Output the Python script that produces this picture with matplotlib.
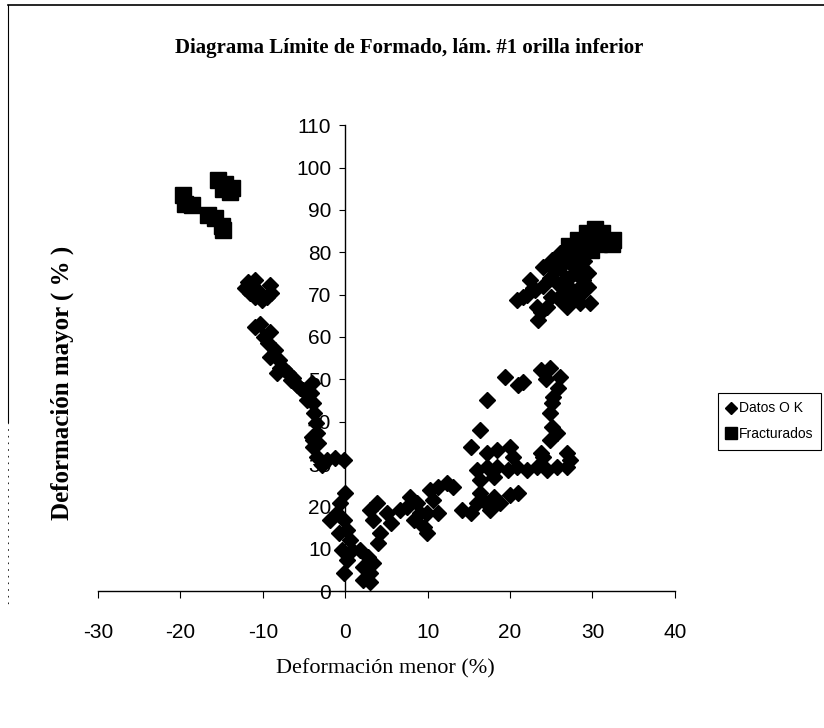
import matplotlib.pyplot as plt
from matplotlib.lines import Line2D

plt.rcParams['font.family'] = ['Liberation Sans', 'DejaVu Sans']
plt.rcParams['axes.unicode_minus'] = False

# Datos O K (minor strain, major strain) in %
ok_x = [-11.8, -10.7, -9.1, -9.5, -10.1, -11.5, -12.2, -11.0, -10.5, -9.0, -11.0,
        -10.9, -9.1, -9.9, -10.3, -9.4, -8.5, -9.1, -8.0,
        -7.9, -6.9, -6.3, -8.3, -7.4, -6.6,
        -5.8, -5.1, -4.2, -4.0, -4.6, -3.9, -3.8, -5.5,
        -3.6, -3.4, -3.9, -3.3, -4.0, -3.9, -3.4, -2.2, -1.2, -0.2, -2.8,
        0.0, -0.6, -1.0, -1.8, -0.2, 0.2, -0.8, 0.6, -0.4, 0.2, -0.2, 0.8,
        1.8, 2.8, 2.2, 3.0, 2.1, 3.0, 3.4,
        3.0, 3.9, 3.4, 4.2, 4.0, 5.1, 5.5, 6.7, 7.9, 7.5, 8.7, 9.1, 9.5, 9.9,
        10.3, 11.2, 10.7, 12.4, 13.1, 11.2, 9.9, 8.3,
        14.2, 15.2, 16.0, 16.7, 18.0, 18.8, 20.0, 21.0, 17.6, 16.4,
        16.0, 17.2, 18.4, 19.7, 20.9, 22.1, 23.3, 24.5, 25.7, 26.9, 27.3, 24.0,
        17.2, 18.4, 20.0, 20.4, 18.0, 16.4, 15.2, 16.4, 17.2,
        19.4, 21.0, 21.6, 23.7, 24.9, 26.1, 25.2, 25.1, 24.9, 25.1, 25.7, 24.9,
        26.9, 23.7, 25.8, 24.4,
        20.9, 21.6, 22.4, 23.3, 23.4, 24.5, 24.0, 25.1, 26.1, 27.3, 28.1, 28.5,
        29.7, 29.4, 27.7, 28.5, 29.4, 26.1, 25.7, 26.4, 26.9, 23.0,
        22.0, 22.8, 24.0, 24.8, 25.5, 26.5, 27.5, 28.0, 28.8, 27.0, 26.0, 25.0,
        27.5, 28.5, 29.0, 27.0, 23.8, 26.8, 28.6]
ok_y = [72.9, 71.1, 72.2, 69.4, 68.7, 70.5, 71.5, 73.5, 70.0, 70.5, 69.5,
        62.3, 61.1, 60.0, 63.0, 58.5, 56.9, 55.2, 54.5,
        52.6, 51.5, 50.3, 51.5, 52.5, 49.8,
        48.6, 47.4, 46.7, 49.1, 45.1, 44.4, 42.0, 48.0,
        39.7, 37.3, 35.6, 34.9, 36.4, 34.0, 31.6, 30.9, 31.4, 30.9, 29.7,
        23.1, 20.8, 18.4, 16.8, 16.8, 14.4, 13.7, 12.0, 9.7, 7.3, 4.2, 9.7,
        9.7, 8.0, 5.7, 4.2, 2.6, 2.1, 6.6,
        19.1, 20.8, 16.8, 13.7, 11.3, 18.4, 16.1, 19.1, 22.2, 19.8, 20.8, 18.4,
        15.1, 13.7,
        23.8, 24.6, 21.5, 25.5, 24.6, 18.4, 18.4, 16.8,
        19.1, 18.4, 20.8, 21.5, 22.2, 20.8, 22.7, 23.1, 19.1, 23.1,
        28.6, 29.3, 29.3, 28.6, 29.3, 28.6, 29.3, 28.6, 29.3, 29.3, 30.9, 31.6,
        32.6, 33.3, 34.0, 31.6, 26.9, 26.2, 34.0, 38.0, 45.1,
        50.5, 48.6, 49.3, 52.2, 52.6, 50.5, 45.8, 44.4, 42.0, 38.7, 37.3, 35.6,
        32.6, 32.6, 48.0, 50.0,
        68.7, 69.4, 73.4, 67.0, 64.0, 67.0, 76.5, 78.1, 79.8, 74.1, 71.1, 68.0,
        68.0, 71.8, 76.5, 78.1, 75.1, 76.5, 72.7, 70.3, 67.0, 71.0,
        70.0, 71.5, 72.0, 74.0, 75.5, 77.5, 78.5, 75.0, 73.5, 72.0, 69.0, 69.5,
        69.0, 70.0, 78.0, 80.0, 66.0, 74.0, 76.5]

# Fracturados
fr_x = [-19.7, -18.6, -16.7, -15.8, -15.0, -14.8, -15.4, -14.6, -13.7, -14.8,
        -14.0, -19.5,
        27.2, 28.2, 29.3, 30.3, 31.2, 32.5, 32.4, 30.8, 29.8, 28.5]
fr_y = [93.5, 91.1, 88.8, 88.0, 86.2, 85.2, 97.0, 96.2, 95.1, 95.0,
        94.2, 91.5,
        81.5, 83.0, 84.5, 85.5, 84.5, 83.0, 82.0, 82.0, 80.5, 80.0]

x_ticks = [-30, -20, -10, 0, 10, 20, 30, 40]
y_ticks = list(range(0, 111, 10))

fig = plt.figure(figsize=(8.24, 7.28), dpi=100)
ax = fig.add_axes([0.119, 0.188, 0.700, 0.640])

ax.plot(ok_x, ok_y, 'D', ms=8.2, color='black', linestyle='none', label='Datos O K')
ax.plot(fr_x, fr_y, 's', ms=11, color='black', linestyle='none', label='Fracturados')

ax.set_xlim(-30, 40)
ax.set_ylim(0, 110)
ax.set_xticks(x_ticks)
ax.set_yticks(y_ticks)

# axes cross at the origin, like a spreadsheet chart
ax.spines['left'].set_position(('data', 0))
ax.spines['top'].set_visible(False)
ax.spines['right'].set_visible(False)
for s in ('left', 'bottom'):
    ax.spines[s].set_linewidth(1.0)
    ax.spines[s].set_color('black')
ax.tick_params(axis='x', direction='out', length=5, pad=18, labelsize=15)
ax.tick_params(axis='y', direction='out', length=4, pad=6, labelsize=15)

fig.text(0.497, 0.934, 'Diagrama Límite de Formado, lám. #1 orilla inferior',
         family='Liberation Serif', weight='bold', fontsize=15,
         ha='center', va='center')
fig.text(0.468, 0.082, 'Deformación menor (%)', family='Liberation Serif',
         fontsize=16, ha='center', va='center')
fig.text(0.075, 0.474, 'Deformación mayor ( % )', family='Liberation Serif',
         weight='bold', fontsize=18, rotation=90, ha='center', va='center')

leg = fig.legend(handles=[
    Line2D([], [], marker='D', color='black', ls='none', ms=6.5, label='Datos O K'),
    Line2D([], [], marker='s', color='black', ls='none', ms=8, label='Fracturados')],
    loc='upper left', bbox_to_anchor=(0.871, 0.46), fontsize=10,
    fancybox=False, edgecolor='black', framealpha=1, borderpad=0.6,
    handlelength=0.7, handletextpad=0.2, labelspacing=0.85, borderaxespad=0)
leg.get_frame().set_linewidth(0.8)

# page frame (top and left edges)
fig.add_artist(Line2D([0.010, 1.0], [0.993, 0.993], transform=fig.transFigure,
                      color='black', lw=1.2))
fig.add_artist(Line2D([0.010, 0.010], [0.993, 0.42], transform=fig.transFigure,
                      color='black', lw=0.8))
fig.add_artist(Line2D([0.010, 0.010], [0.42, 0.17], transform=fig.transFigure,
                      color='black', lw=0.6, ls=(0, (2, 6))))

fig.savefig('out.png', dpi=100)
